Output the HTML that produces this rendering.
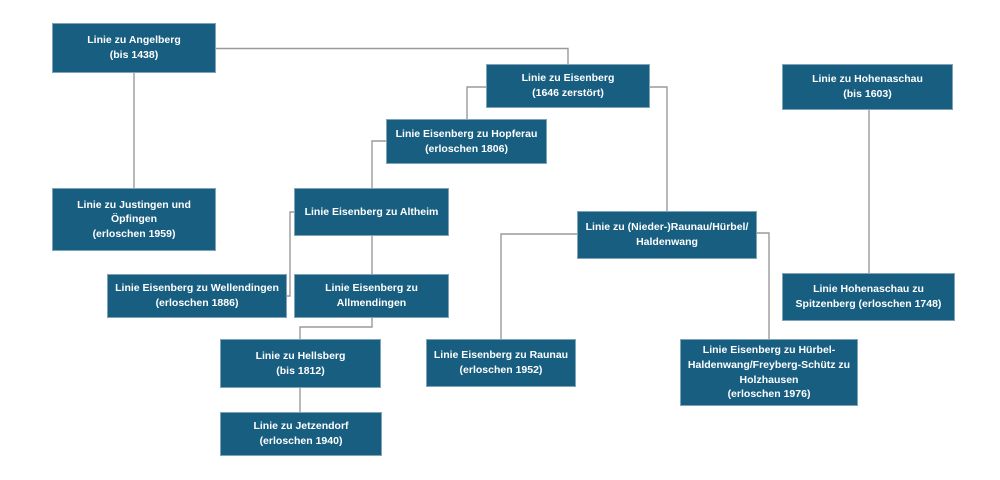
<!DOCTYPE html>
<html><head><meta charset="utf-8"><style>
html,body{margin:0;padding:0;background:#fff;}
body{width:1000px;height:480px;position:relative;overflow:hidden;font-family:"Liberation Sans",sans-serif;}
.b{position:absolute;box-sizing:border-box;background:#175e80;border:1px solid #7fa4ba;color:#fff;font-weight:bold;font-size:10.5px;line-height:14.6px;text-align:center;display:flex;align-items:center;justify-content:center;white-space:nowrap;}
svg{position:absolute;left:0;top:0;}
</style></head><body>
<svg width="1000" height="480" viewBox="0 0 1000 480">
<g fill="none" stroke="#9a9a9a" stroke-width="1.4">
<polyline points="216,48.5 568,48.5 568,64"/>
<polyline points="134,73 134,188"/>
<polyline points="486,87 467,87 467,119"/>
<polyline points="650,87 667,87 667,211"/>
<polyline points="386,141 372,141 372,188"/>
<polyline points="372,236 372,274"/>
<polyline points="294,212 290,212 290,296 287,296"/>
<polyline points="372,318 372,327 300,327 300,339"/>
<polyline points="300,388 300,412"/>
<polyline points="577,234 501,234 501,339"/>
<polyline points="757,233 769,233 769,339"/>
<polyline points="869,110 869,273"/>
</g>
</svg>
<div class="b" style="left:52px;top:23px;width:164px;height:50px;">Linie zu Angelberg<br>(bis 1438)</div>
<div class="b" style="left:486px;top:64px;width:164px;height:44px;">Linie zu Eisenberg<br>(1646 zerstört)</div>
<div class="b" style="left:386px;top:119px;width:161px;height:45px;">Linie Eisenberg zu Hopferau<br>(erloschen 1806)</div>
<div class="b" style="left:782px;top:64px;width:171px;height:46px;">Linie zu Hohenaschau<br>(bis 1603)</div>
<div class="b" style="left:52px;top:188px;width:164px;height:63px;">Linie zu Justingen und<br>Öpfingen<br>(erloschen 1959)</div>
<div class="b" style="left:294px;top:188px;width:155px;height:48px;">Linie Eisenberg zu Altheim</div>
<div class="b" style="left:577px;top:211px;width:180px;height:48px;">Linie zu (Nieder-)Raunau/Hürbel/<br>Haldenwang</div>
<div class="b" style="left:107px;top:274px;width:180px;height:44px;">Linie Eisenberg zu Wellendingen<br>(erloschen 1886)</div>
<div class="b" style="left:294px;top:274px;width:155px;height:44px;">Linie Eisenberg zu<br>Allmendingen</div>
<div class="b" style="left:782px;top:273px;width:173px;height:48px;">Linie Hohenaschau zu<br>Spitzenberg (erloschen 1748)</div>
<div class="b" style="left:220px;top:339px;width:161px;height:49px;">Linie zu Hellsberg<br>(bis 1812)</div>
<div class="b" style="left:426px;top:339px;width:150px;height:48px;">Linie Eisenberg zu Raunau<br>(erloschen 1952)</div>
<div class="b" style="left:680px;top:339px;width:178px;height:67px;">Linie Eisenberg zu Hürbel-<br>Haldenwang/Freyberg-Schütz zu<br>Holzhausen<br>(erloschen 1976)</div>
<div class="b" style="left:220px;top:412px;width:162px;height:44px;">Linie zu Jetzendorf<br>(erloschen 1940)</div>
</body></html>
